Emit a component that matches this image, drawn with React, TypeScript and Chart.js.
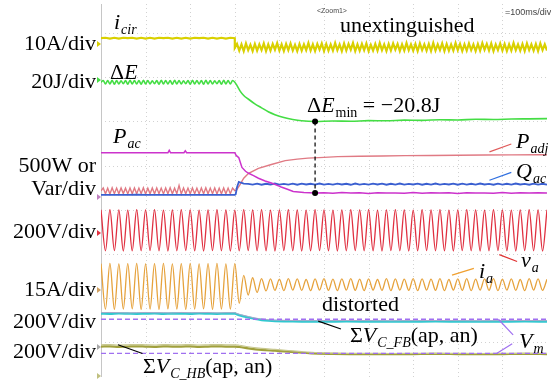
import React, { useEffect, useRef } from "react";
import { Chart, registerables } from "chart.js";
Chart.register(...registerables);

const SERIF = '"Liberation Serif", "Times New Roman", Times, serif';
const SANS = '"Liberation Sans", Arial, sans-serif';

// ---- axes: 100 ms/div horizontally, screen divisions vertically ----
const T_MIN = 0;
const T_MAX = 1000;
const T_GRID = [100, 200, 300, 400, 500, 600, 700, 800, 900];
const Y_MAX = 381 / 45;
const Y_GRID = [0.8, 1.8, 2.8, 3.8, 4.8, 5.8, 6.8, 7.8];

// ---- channel settings: units per division, ground position (div) ----
const ICIR_CH = { scale: 10, off: 7.49 };
const DE_CH = { scale: 20, off: 6.84 };
const PW_CH = { scale: 500, off: 4.09 };
const VA_CH = { scale: 200, off: 3.33 };
const IA_CH = { scale: 15, off: 2.04 };
const FB_CH = { scale: 200, off: 1.42 };
const HB_CH = { scale: 200, off: 0.756 };

// ---- i_cir (A): 0..300 ms step 10, then 300.. step 5 ----
const ICIR_PRE = [2.0,2.1,1.9,2.1,1.9,2.1,2.0,2.1,1.9,2.1,1.9,2.1,1.9,2.1,2.0,2.1,1.9,2.1,1.9,2.1,1.9,2.1,2.0,2.1,1.9,2.1,1.9,2.1,1.9,2.1,2.0];
const ICIR_POST = [
  -0.2,0.7,-0.8,0.6,-0.9,0.8,-0.7,0.5,-0.9,0.7,
  -0.8,0.6,-0.7,0.8,-0.9,0.6,-0.8,0.7,-0.6,0.9,
  -0.8,0.6,-0.9,0.7,-0.7,0.8,-0.8,0.5,-0.9,0.7,
  -0.8,0.6,-0.7,0.9,-0.8,0.6,-0.9,0.7,-0.6,0.8,
  -0.9,0.7,-0.8,0.6,-0.8,0.9,-0.7,0.6,-0.9,0.8,
  -0.8,0.7,-0.6,0.9,-0.9,0.6,-0.8,0.7,-0.7,0.8,
  -0.9,0.5,-0.8,0.7,-0.8,0.9,-0.7,0.6,-0.9,0.7,
  -0.8,0.8,-0.6,0.7,-0.9,0.6,-0.8,0.9,-0.7,0.6,
  -0.8,0.7,-0.9,0.8,-0.7,0.6,-0.8,0.7,-0.9,0.9,
  -0.8,0.6,-0.7,0.8,-0.9,0.7,-0.8,0.6,-0.8,0.9,
  -0.7,0.7,-0.9,0.6,-0.8,0.8,-0.7,0.6,-0.9,0.7,
  -0.8,0.9,-0.6,0.7,-0.8,0.8,-0.9,0.6,-0.7,0.8,
  -0.8,0.7,-0.9,0.6,-0.8,0.9,-0.7,0.6,-0.8,0.7,
  -0.9,0.8,-0.7,0.6,-0.8,0.7,-0.9,0.8,-0.7,0.6,
  -0.8,0.7,-0.9,
];

// ---- ΔE (J): 0..300 step 5, then explicit times ----
const DE_PRE = [
  -3.0,-2.2,-3.8,-2.2,-3.8,-2.1,-3.9,-2.2,-3.8,-2.3,
  -3.7,-2.2,-3.9,-2.1,-3.8,-2.2,-3.8,-2.2,-3.9,-2.1,
  -3.8,-2.2,-3.8,-2.3,-3.7,-2.2,-3.9,-2.1,-3.8,-2.2,
  -3.8,-2.2,-3.9,-2.1,-3.8,-2.2,-3.8,-2.3,-3.7,-2.2,
  -3.9,-2.1,-3.8,-2.2,-3.8,-2.2,-3.9,-2.1,-3.8,-2.2,
  -3.8,-2.3,-3.7,-2.2,-3.9,-2.1,-3.8,-2.2,-3.8,-2.2,
  -3.0,
];
const DE_POST_T = [305,312,320,330,345,360,375,390,410,430,450,480,520,560,600,640,680,720,760,800,840,880,920,960,1000];
const DE_POST = [-4.5,-7.0,-9.0,-10.6,-12.8,-14.6,-16.4,-17.7,-19.0,-19.9,-20.5,-20.8,-20.6,-20.7,-20.4,-20.5,-20.2,-20.3,-20.0,-20.1,-19.8,-19.9,-19.7,-19.6,-19.5];
const DE_MIN_T = 480;
const DE_MIN = -20.8;

// ---- P_ac (W) ----
const PAC_PRE_T = [0,40,80,120,150,153,156,186,189,192,230,270,300];
const PAC_PRE = [500,501,499,500,500,528,500,500,522,500,501,499,500];
const PAC_DROP_T = [303,309,316,324,331,342,353,368,382,395,404,418,431,455,480];
const PAC_DROP = [470,444,333,290,267,240,211,180,156,130,111,85,60,50,44];
const PAC_TAIL = [46,40,48,42,45,39,47,43,44,41,48,40,45,43,46,39,47,42,44,41,48,40,45,43,46,42];

// ---- P_adj (W) ----
const PADJ_PRE = [
  67,100,35,98,33,102,36,99,34,100,
  37,98,33,101,35,100,34,99,36,102,
  33,98,35,100,34,101,36,99,33,100,
  35,102,34,98,36,130,33,100,35,99,
  34,101,36,98,33,100,35,102,34,99,
  36,100,33,98,35,101,34,99,36,100,
  70,
];
const PADJ_POST_T = [304,311,320,331,353,382,413,440,464,500,531,580,630,682,740,800,860,920,980,1000];
const PADJ_POST = [78,133,211,267,322,367,411,428,439,448,456,460,463,467,469,472,474,476,478,478];

// ---- Q_ac (Var) ----
const QAC_PRE = [22,23,21,22,24,21,22,23,21,22,23,22,21,23,22,22];
const QAC_JUMP_T = [302,305,309,314,320];
const QAC_JUMP = [30,110,170,160,150];
const QAC_RIP = [
  146,138,150,137,148,140,151,138,147,139,
  150,137,149,140,148,138,151,139,147,138,
  150,140,148,137,151,139,147,138,150,140,
  149,137,148,139,151,138,147,140,150,137,
  148,139,151,138,147,140,150,137,149,139,
  148,138,151,140,147,137,150,139,148,138,
  151,140,147,137,150,139,148,138,
];

// ---- v_a (V): extrema every 10 ms ----
const VA = [
  93,-93,94,-92,93,-94,92,-93,94,-93,
  93,-92,94,-93,92,-94,93,-93,94,-92,
  93,-93,92,-94,93,-92,94,-93,93,-94,
  92,-93,94,-92,93,-93,94,-93,92,-94,
  93,-92,94,-93,93,-94,92,-93,94,-92,
  93,-93,92,-94,93,-93,94,-92,93,-93,
  94,-93,92,-94,93,-92,94,-93,93,-94,
  92,-93,94,-92,93,-93,94,-93,92,-94,
  93,-92,94,-93,93,-94,92,-93,94,-92,
  93,-93,92,-94,93,-92,94,-93,93,-94,
  93,
];

// ---- i_a (A): extrema every 10 ms ----
const IA = [
  8.0,-7.5,8.1,-7.6,7.9,-7.5,8.0,-7.4,8.1,-7.6,
  7.9,-7.5,8.0,-7.6,8.1,-7.4,7.9,-7.5,8.0,-7.6,
  8.1,-7.5,7.9,-7.4,8.0,-7.6,8.1,-7.5,7.9,-7.5,
  8.0,-5.5,4.0,-2.7,3.2,-1.8,2.9,-1.3,2.8,-1.1,
  2.7,-1.2,2.9,-1.0,2.8,-1.1,2.6,-1.2,2.8,-1.0,
  2.9,-1.1,2.7,-1.2,2.8,-1.0,2.9,-1.1,2.7,-1.2,
  2.8,-1.0,2.6,-1.1,2.9,-1.2,2.8,-1.0,2.7,-1.1,
  2.9,-1.2,2.8,-1.0,2.7,-1.1,2.9,-1.2,2.6,-1.0,
  2.8,-1.1,2.9,-1.2,2.7,-1.0,2.8,-1.1,2.9,-1.2,
  2.7,-1.0,2.8,-1.1,2.6,-1.2,2.9,-1.0,2.8,-1.1,
  2.7,
];

// ---- ΣV_C_FB (V) ----
const FB_PRE = [4,3,5,4,3,4,5,3,4,4,3,5,4,3,4,4];
const FB_POST_T = [305,315,330,345,360,375,390,420,450,500,550,600,650,700,750,800,850,900,950,1000];
const FB_POST = [0,-6,-13,-20,-25,-28,-30,-31,-32,-32,-31.5,-32,-32.5,-32,-31.5,-32,-32.5,-32,-31.5,-32];
const FB2_PRE = [8,9,8,7,8,9,8,8,7,9,8,8,9,7,8,8];
const FB2_POST = [4,-2,-9,-16,-21,-24,-26,-27,-28,-28,-27.5,-28,-28.5,-28,-27.5,-28,-28.5,-28,-27.5,-28];

// ---- ΣV_C_HB (V) ----
const HB_PRE = [-13,-12,-14,-13,-12,-13,-14,-12,-13,-13,-12,-14,-13,-12,-13,-13];
const HB_POST_T = [310,330,360,390,420,450,487,520,560,600,650,700,750,800,850,900,950,1000];
const HB_POST = [-15,-21,-28,-32,-36,-41,-45.5,-46.5,-47,-47,-47.5,-47,-46.5,-47,-47.5,-47,-46.5,-47];
const HB2_PRE = [-5,-4,-6,-5,-4,-5,-6,-4,-5,-5,-4,-6,-5,-4,-5,-5];
const HB2_POST = [-7,-14,-21,-26,-31,-36,-41,-43,-44,-44,-44.5,-44,-43.5,-44,-44.5,-44,-43.5,-44];

// ---- V_m reference (V) on the two 200V/div channels ----
const VM_FB = -21.8;
const VM_HB = -43.6;

// ---- leader lines for the trace labels: [t1, div1, t2, div2] ----
const LEADERS = [
  { c: "#e05a5a", p: [871, 5.111, 920, 5.289] },
  { c: "#2f6fe0", p: [871, 4.467, 920, 4.644] },
  { c: "#e03030", p: [893, 2.778, 933, 2.622] },
  { c: "#f0a030", p: [787, 2.311, 836, 2.467] },
  { c: "#000000", p: [487, 1.267, 538, 1.089] },
  { c: "#a070f0", p: [891, 1.311, 924, 0.956] },
  { c: "#a070f0", p: [887, 0.533, 922, 0.756] },
  { c: "#000000", p: [38, 0.733, 93, 0.533] },
];

// ---- text ----
const AXIS_LABELS = [
  { s: "10A/div", y: 50 },
  { s: "20J/div", y: 88 },
  { s: "500W or", y: 172 },
  { s: "Var/div", y: 195 },
  { s: "200V/div", y: 238 },
  { s: "15A/div", y: 296 },
  { s: "200V/div", y: 328 },
  { s: "200V/div", y: 358 },
];
type Run = { s: string; it?: boolean; sub?: boolean };
const NOTES: { x: number; y: number; runs: Run[] }[] = [
  { x: 114, y: 29, runs: [{ s: "i", it: true }, { s: "cir", it: true, sub: true }] },
  { x: 110, y: 79, runs: [{ s: "Δ" }, { s: "E", it: true }] },
  { x: 113, y: 143, runs: [{ s: "P", it: true }, { s: "ac", it: true, sub: true }] },
  { x: 340, y: 32, runs: [{ s: "unextinguished" }] },
  { x: 307, y: 112, runs: [{ s: "Δ" }, { s: "E", it: true }, { s: "min", sub: true }, { s: " = −20.8J" }] },
  { x: 516, y: 148, runs: [{ s: "P", it: true }, { s: "adj", it: true, sub: true }] },
  { x: 516, y: 178, runs: [{ s: "Q", it: true }, { s: "ac", it: true, sub: true }] },
  { x: 521, y: 267, runs: [{ s: "v", it: true }, { s: "a", it: true, sub: true }] },
  { x: 479, y: 278, runs: [{ s: "i", it: true }, { s: "a", it: true, sub: true }] },
  { x: 322, y: 311, runs: [{ s: "distorted" }] },
  { x: 350, y: 342, runs: [{ s: "Σ" }, { s: "V", it: true }, { s: "C_FB", it: true, sub: true }, { s: "(ap, an)" }] },
  { x: 519, y: 348, runs: [{ s: "V", it: true }, { s: "m", it: true, sub: true }] },
  { x: 143, y: 373, runs: [{ s: "Σ" }, { s: "V", it: true }, { s: "C_HB", it: true, sub: true }, { s: "(ap, an)" }] },
];
const MARKERS = [
  { y: 44, c: "#d9d000" },
  { y: 80, c: "#44dd44" },
  { y: 197, c: "#c080c0" },
  { y: 233, c: "#e03040" },
  { y: 290, c: "#d0a060" },
  { y: 347, c: "#a8a8a8" },
  { y: 376, c: "#c0c080" },
];

type Ch = { scale: number; off: number };
type P = { t: number; v: number };
const seq = (start: number, step: number, vals: number[]): P[] => vals.map((v, i) => ({ t: start + i * step, v }));
const pairs = (ts: number[], vals: number[]): P[] => vals.map((v, i) => ({ t: ts[i], v }));
const toPts = (arr: P[], ch: Ch) => arr.map((p) => ({ x: p.t, y: ch.off + p.v / ch.scale }));

function trace(label: string, data: any[], color: string, width: number, smooth: boolean, extra: any = {}) {
  return {
    label,
    data,
    borderColor: color,
    borderWidth: width,
    pointRadius: 0,
    fill: false,
    tension: 0,
    cubicInterpolationMode: smooth ? "monotone" : "default",
    ...extra,
  };
}

function drawRuns(ctx: CanvasRenderingContext2D, x: number, y: number, runs: Run[]) {
  let cx = x;
  for (const r of runs) {
    const size = r.sub ? 14 : 22;
    ctx.font = `${r.it ? "italic " : ""}${size}px ${SERIF}`;
    ctx.fillText(r.s, cx, y + (r.sub ? 5 : 0));
    cx += ctx.measureText(r.s).width + (r.it && !r.sub ? 1 : 0);
  }
}

const gridPlugin = {
  id: "scopeGrid",
  beforeDatasetsDraw(chart: any) {
    const { ctx, chartArea: a, scales } = chart;
    const xs = scales.x, ys = scales.y;
    ctx.save();
    ctx.strokeStyle = "#d2d2d2";
    ctx.lineWidth = 1;
    ctx.setLineDash([1, 3]);
    T_GRID.forEach((t) => {
      const px = Math.round(xs.getPixelForValue(t)) + 0.5;
      ctx.beginPath(); ctx.moveTo(px, a.top); ctx.lineTo(px, a.bottom); ctx.stroke();
    });
    Y_GRID.forEach((d) => {
      const py = Math.round(ys.getPixelForValue(d)) + 0.5;
      ctx.beginPath(); ctx.moveTo(a.left, py); ctx.lineTo(a.right, py); ctx.stroke();
    });
    ctx.setLineDash([]);
    ctx.strokeStyle = "#c6c6c6";
    const lx = Math.round(a.left) + 0.5;
    ctx.beginPath(); ctx.moveTo(lx, a.top); ctx.lineTo(lx, a.bottom); ctx.stroke();
    ctx.restore();
  },
};

const textPlugin = {
  id: "scopeText",
  afterDraw(chart: any) {
    const { ctx, chartArea: a } = chart;
    ctx.save();
    ctx.fillStyle = "#000";
    ctx.textBaseline = "alphabetic";
    ctx.font = `22px ${SERIF}`;
    ctx.textAlign = "right";
    AXIS_LABELS.forEach((l) => ctx.fillText(l.s, a.left - 5, l.y));
    ctx.textAlign = "left";
    NOTES.forEach((n) => drawRuns(ctx, n.x, n.y, n.runs));
    ctx.fillStyle = "#444";
    ctx.font = `7px ${SANS}`;
    ctx.fillText("<Zoom1>", 317, 13);
    ctx.font = `9px ${SANS}`;
    ctx.fillText("=100ms/div", 505, 15);
    MARKERS.forEach((m) => {
      ctx.fillStyle = m.c;
      ctx.beginPath();
      ctx.moveTo(a.left - 4, m.y - 3);
      ctx.lineTo(a.left, m.y);
      ctx.lineTo(a.left - 4, m.y + 3);
      ctx.closePath();
      ctx.fill();
    });
    ctx.restore();
  },
};

export default function App() {
  const ref = useRef<HTMLCanvasElement | null>(null);
  useEffect(() => {
    document.body.style.margin = "0";
    if (!ref.current) return;
    const icir = toPts([...seq(0, 10, ICIR_PRE), ...seq(300, 5, ICIR_POST)], ICIR_CH);
    const de = toPts([...seq(0, 5, DE_PRE), ...pairs(DE_POST_T, DE_POST)], DE_CH);
    const pac = toPts([...pairs(PAC_PRE_T, PAC_PRE), ...pairs(PAC_DROP_T, PAC_DROP), ...seq(500, 20, PAC_TAIL)], PW_CH);
    const padj = toPts([...seq(0, 5, PADJ_PRE), ...pairs(PADJ_POST_T, PADJ_POST)], PW_CH);
    const qac = toPts([...seq(0, 20, QAC_PRE), ...pairs(QAC_JUMP_T, QAC_JUMP), ...seq(330, 10, QAC_RIP)], PW_CH);
    const va = toPts(seq(0, 10, VA), VA_CH);
    const ia = toPts(seq(0, 10, IA), IA_CH);
    const fb = toPts([...seq(0, 20, FB_PRE), ...pairs(FB_POST_T, FB_POST)], FB_CH);
    const fb2 = toPts([...seq(0, 20, FB2_PRE), ...pairs(FB_POST_T, FB2_POST)], FB_CH);
    const hb = toPts([...seq(0, 20, HB_PRE), ...pairs(HB_POST_T, HB_POST)], HB_CH);
    const hb2 = toPts([...seq(0, 20, HB2_PRE), ...pairs(HB_POST_T, HB2_POST)], HB_CH);
    const vmFb = toPts([{ t: T_MIN, v: VM_FB }, { t: T_MAX, v: VM_FB }], FB_CH);
    const vmHb = toPts([{ t: T_MIN, v: VM_HB }, { t: T_MAX, v: VM_HB }], HB_CH);
    const pacAtMin = PAC_DROP[PAC_DROP_T.indexOf(DE_MIN_T)];
    const minLine = [
      { x: DE_MIN_T, y: DE_CH.off + DE_MIN / DE_CH.scale },
      { x: DE_MIN_T, y: PW_CH.off + pacAtMin / PW_CH.scale },
    ];

    const datasets: any[] = [
      trace("min", minLine, "#000", 1.2, false, {
        borderDash: [4, 3], pointRadius: 3, pointBackgroundColor: "#000", pointBorderWidth: 0,
      }),
      ...LEADERS.map((l, i) =>
        trace("leader" + i, [{ x: l.p[0], y: l.p[1] }, { x: l.p[2], y: l.p[3] }], l.c, 1.2, false)
      ),
      trace("Vm FB", vmFb, "#a070f0", 1.3, false, { borderDash: [5, 3] }),
      trace("Vm HB", vmHb, "#a070f0", 1.3, false, { borderDash: [5, 3] }),
      trace("i_cir", icir, "#d9d000", 2.2, false),
      trace("dE", de, "#44dd44", 1.6, true),
      trace("P_ac", pac, "#cc33cc", 1.5, false),
      trace("Q_ac", qac, "#3a5fd0", 1.8, false),
      trace("P_adj", padj, "#e07a84", 1.4, false),
      trace("v_a", va, "#e03040", 1.3, true),
      trace("i_a", ia, "#e6a23c", 1.3, true),
      trace("FB2", fb2, "#a8a8c8", 1.0, true),
      trace("FB", fb, "#30c8d0", 2.4, true),
      trace("HB2", hb2, "#c8c890", 1.2, true),
      trace("HB", hb, "#a0a03c", 2.2, true),
    ];

    const chart = new Chart(ref.current, {
      type: "line",
      data: { datasets },
      options: {
        animation: false,
        responsive: false,
        devicePixelRatio: 1,
        layout: { padding: { left: 101, right: 0, top: 0, bottom: 0 } },
        plugins: { legend: { display: false }, tooltip: { enabled: false } },
        events: [],
        scales: {
          x: { type: "linear", min: T_MIN, max: T_MAX, display: false },
          y: { type: "linear", min: 0, max: Y_MAX, display: false },
        },
      },
      plugins: [gridPlugin, textPlugin],
    } as any);
    return () => chart.destroy();
  }, []);
  return (
    <div style={{ position: "relative", width: 551, height: 381, background: "#fff" }}>
      <canvas ref={ref} width={551} height={381} style={{ width: 551, height: 381, display: "block" }} />
    </div>
  );
}
